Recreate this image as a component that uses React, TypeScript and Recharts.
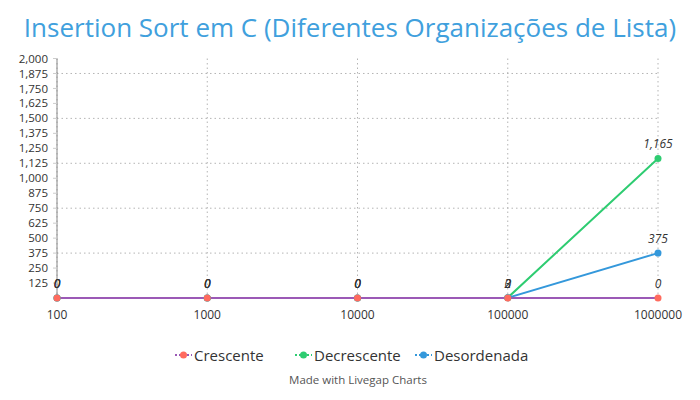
import { LineChart, Line, XAxis, YAxis, CartesianGrid, LabelList } from 'recharts';

const categories = ['100', '1000', '10000', '100000', '1000000'];
const crescente = [0, 0, 0, 0, 0];
const decrescente = [0, 0, 0, 3, 1165];
const desordenada = [0, 0, 0, 2, 375];
const yTicks = [125, 250, 375, 500, 625, 750, 875, 1000, 1125, 1250, 1375, 1500, 1625, 1750, 1875, 2000];
const gridValues = [375, 750, 1125, 1500, 1875];

const data = categories.map((n, i) => ({
  n,
  crescente: crescente[i],
  decrescente: decrescente[i],
  desordenada: desordenada[i]
}));

const font = '"Open Sans", sans-serif';
const fmt = (v: number) => v.toLocaleString('en-US');

// legend entries and where each one starts
const legendItems = [
  { name: 'Crescente', line: '#9b59b6', dot: '#ff6b5e', left: 175 },
  { name: 'Decrescente', line: '#2ecc71', dot: '#2ecc71', left: 295 },
  { name: 'Desordenada', line: '#3498db', dot: '#3498db', left: 415 }
];

function LegendIcon({ line, dot }: { line: string; dot: string }) {
  return (
    <svg width={17} height={10} style={{ marginRight: 2 }}>
      <line x1={0} y1={5} x2={17} y2={5} stroke={line} strokeWidth={2} strokeDasharray="2 2" />
      <circle cx={8.5} cy={5} r={3.5} fill={dot} />
    </svg>
  );
}

export default function App() {
  const labelStyle = { fontSize: 12, fontStyle: 'italic', fill: '#333', fontFamily: font };
  return (
    <div style={{ position: 'absolute', left: 0, top: 0, width: 700, height: 400, background: '#fff', fontFamily: font }}>
      <div
        style={{
          position: 'absolute',
          top: 10,
          left: 0,
          width: 700,
          textAlign: 'center',
          fontSize: 26,
          color: '#40a0dd',
          lineHeight: '34px'
        }}
      >
        Insertion Sort em C (Diferentes Organizações de Lista)
      </div>
      <div style={{ position: 'absolute', left: 0, top: 0 }}>
        <LineChart width={700} height={400} data={data} margin={{ top: 58.5, right: 42, left: 0, bottom: 72 }}>
          <CartesianGrid stroke="#b4b4b4" strokeDasharray="1.5 3" horizontalValues={gridValues} />
          <XAxis
            dataKey="n"
            axisLine={false}
            tickLine={false}
            tick={{ fontSize: 12, fill: '#333', fontFamily: font }}
            tickMargin={6}
            height={30}
            interval={0}
          />
          <YAxis
            width={57}
            domain={[0, 2000]}
            ticks={yTicks}
            interval={0}
            tickFormatter={fmt}
            axisLine={{ stroke: '#888' }}
            tickLine={{ stroke: '#ccc' }}
            tickSize={4}
            tickMargin={5}
            tick={{ fontSize: 11.5, fill: '#333', fontFamily: font }}
          />
          <Line
            dataKey="decrescente"
            stroke="#2ecc71"
            strokeWidth={2}
            dot={{ r: 3.5, fill: '#2ecc71', stroke: 'none' }}
            isAnimationActive={false}
          >
            <LabelList dataKey="decrescente" position="top" offset={10} formatter={fmt} style={labelStyle} />
          </Line>
          <Line
            dataKey="desordenada"
            stroke="#3498db"
            strokeWidth={2}
            dot={{ r: 3.5, fill: '#3498db', stroke: 'none' }}
            isAnimationActive={false}
          >
            <LabelList dataKey="desordenada" position="top" offset={10} formatter={fmt} style={labelStyle} />
          </Line>
          <Line
            dataKey="crescente"
            stroke="#9b59b6"
            strokeWidth={2}
            dot={{ r: 3.5, fill: '#ff6b5e', stroke: 'none' }}
            isAnimationActive={false}
          >
            <LabelList dataKey="crescente" position="top" offset={10} formatter={fmt} style={labelStyle} />
          </Line>
        </LineChart>
      </div>
      {legendItems.map((it) => (
        <div
          key={it.name}
          style={{
            position: 'absolute',
            top: 344,
            left: it.left,
            display: 'flex',
            alignItems: 'center',
            fontSize: 15,
            color: '#333',
            lineHeight: '22px',
            whiteSpace: 'nowrap'
          }}
        >
          <LegendIcon line={it.line} dot={it.dot} />
          {it.name}
        </div>
      ))}
      <div
        style={{
          position: 'absolute',
          top: 372,
          left: 0,
          width: 716,
          textAlign: 'center',
          fontSize: 11.5,
          color: '#555'
        }}
      >
        Made with Livegap Charts
      </div>
    </div>
  );
}
